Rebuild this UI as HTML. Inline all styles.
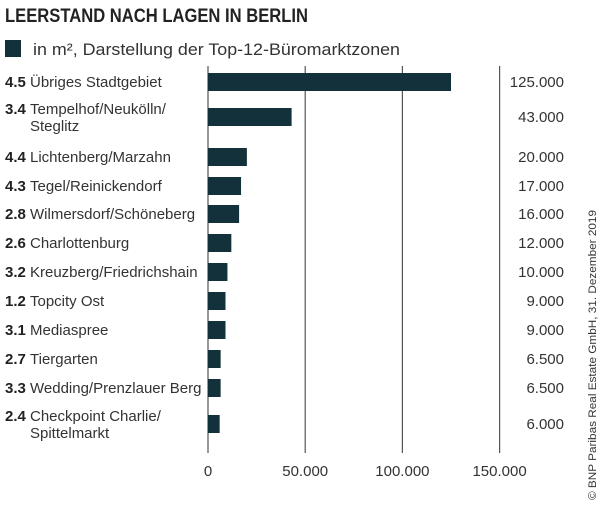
<!DOCTYPE html>
<html><head><meta charset="utf-8"><style>
body{margin:0;background:#fff;width:600px;height:514px;overflow:hidden;font-family:"Liberation Sans",sans-serif}
svg{display:block}
</style></head><body>
<svg id="c" width="600" height="514">
<text x="5" y="22" font-size="19" font-weight="bold" fill="#222" textLength="303" lengthAdjust="spacingAndGlyphs">LEERSTAND NACH LAGEN IN BERLIN</text>
<rect x="5" y="40" width="16" height="17" fill="#12313a"/>
<text x="33" y="55" font-size="17" fill="#333" textLength="367" lengthAdjust="spacingAndGlyphs">in m², Darstellung der Top-12-Büromarktzonen</text>
<text transform="translate(596,500) rotate(-90)" font-size="11" fill="#333" textLength="290" lengthAdjust="spacingAndGlyphs">© BNP Paribas Real Estate GmbH, 31. Dezember 2019</text>
<g id="g"></g>
</svg>
<script>
const codes=["4.5","3.4","4.4","4.3","2.8","2.6","3.2","1.2","3.1","2.7","3.3","2.4"];
const names=[["Übriges Stadtgebiet"],["Tempelhof/Neukölln/","Steglitz"],["Lichtenberg/Marzahn"],["Tegel/Reinickendorf"],["Wilmersdorf/Schöneberg"],["Charlottenburg"],["Kreuzberg/Friedrichshain"],["Topcity Ost"],["Mediaspree"],["Tiergarten"],["Wedding/Prenzlauer Berg"],["Checkpoint Charlie/","Spittelmarkt"]];
const values=[125000,43000,20000,17000,16000,12000,10000,9000,9000,6500,6500,6000];
const valueLabels=["125.000","43.000","20.000","17.000","16.000","12.000","10.000","9.000","9.000","6.500","6.500","6.000"];
const ticks=[0,50000,100000,150000];
const tickLabels=["0","50.000","100.000","150.000"];
const rowY=[82,117,157,186,214,243,272,301,330,359,388,424];
const NS="http://www.w3.org/2000/svg",g=document.getElementById('g');
const x=v=>208+v*(291.6/150000);
function mk(t,a,txt){const e=document.createElementNS(NS,t);for(const k in a)e.setAttribute(k,a[k]);if(txt!==undefined)e.textContent=txt;g.appendChild(e);return e;}
ticks.forEach((t,i)=>{
 const l=mk('line',{x1:x(t),x2:x(t),y1:66,y2:453,stroke:'#555','stroke-width':1.2});
 
 
 const tx=mk('text',{x:x(t),y:476,'font-size':15,fill:'#333','text-anchor':'middle'},tickLabels[i]);
 
 
});
values.forEach((v,i)=>{
 const cy=rowY[i];
 const b=mk('rect',{x:208,y:cy-9,width:x(v)-208,height:18,fill:'#12313a'});
 
 
 const two=names[i].length>1;
 const y0=two?cy-3:cy+5;
 const c=mk('text',{x:5,y:y0,'font-size':15,'font-weight':'bold',fill:'#222'},codes[i]);
 
 
 names[i].forEach((n,j)=>{
  const t=mk('text',{x:30,y:y0+j*17,'font-size':15,fill:'#333'},n);
  
  
 });
 const vl=mk('text',{x:564,y:cy+5,'font-size':15,fill:'#333','text-anchor':'end'},valueLabels[i]);
 
 
});
</script>
</body></html>
